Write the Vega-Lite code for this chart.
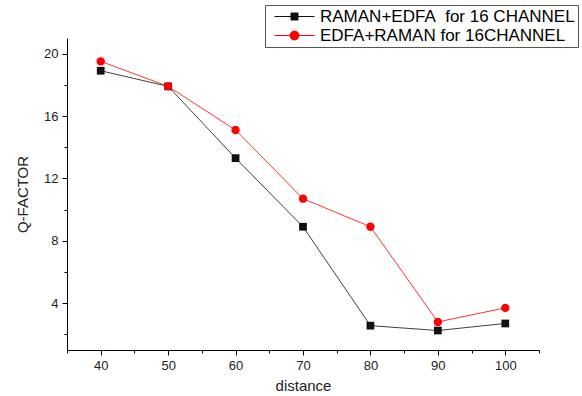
{
  "$schema": "https://vega.github.io/schema/vega-lite/v6.json",
  "width": 472,
  "height": 312,
  "autosize": {"type": "none"},
  "padding": {"left": 67, "top": 38, "right": 43, "bottom": 46},
  "background": "white",
  "config": {"view": {"stroke": null}, "font": "Liberation Sans"},
  "data": {
    "values": [
      {"distance": 40, "q": 18.9, "series": "RAMAN+EDFA\u00a0 for 16 CHANNEL"},
      {"distance": 50, "q": 17.9, "series": "RAMAN+EDFA\u00a0 for 16 CHANNEL"},
      {"distance": 60, "q": 13.3, "series": "RAMAN+EDFA\u00a0 for 16 CHANNEL"},
      {"distance": 70, "q": 8.9, "series": "RAMAN+EDFA\u00a0 for 16 CHANNEL"},
      {"distance": 80, "q": 2.56, "series": "RAMAN+EDFA\u00a0 for 16 CHANNEL"},
      {"distance": 90, "q": 2.25, "series": "RAMAN+EDFA\u00a0 for 16 CHANNEL"},
      {"distance": 100, "q": 2.7, "series": "RAMAN+EDFA\u00a0 for 16 CHANNEL"},
      {"distance": 40, "q": 19.5, "series": "EDFA+RAMAN for 16CHANNEL"},
      {"distance": 50, "q": 17.9, "series": "EDFA+RAMAN for 16CHANNEL"},
      {"distance": 60, "q": 15.1, "series": "EDFA+RAMAN for 16CHANNEL"},
      {"distance": 70, "q": 10.7, "series": "EDFA+RAMAN for 16CHANNEL"},
      {"distance": 80, "q": 8.9, "series": "EDFA+RAMAN for 16CHANNEL"},
      {"distance": 90, "q": 2.8, "series": "EDFA+RAMAN for 16CHANNEL"},
      {"distance": 100, "q": 3.7, "series": "EDFA+RAMAN for 16CHANNEL"}
    ]
  },
  "layer": [
    {
      "mark": {"type": "line", "strokeWidth": 1, "strokeOpacity": 0.8},
      "encoding": {
        "x": {
          "field": "distance", "type": "quantitative",
          "scale": {"domain": [35, 105], "nice": false, "zero": false},
          "axis": {
            "orient": "bottom",
            "values": [40, 50, 60, 70, 80, 90, 100],
            "tickSize": 5, "tickColor": "black", "domainColor": "black",
            "labelFontSize": 13, "labelColor": "#222", "labelPadding": 4,
            "title": "distance", "titleFontSize": 15, "titleFontWeight": "normal",
            "titleColor": "#222", "titlePadding": 6, "grid": false
          }
        },
        "y": {
          "field": "q", "type": "quantitative",
          "scale": {"domain": [1, 21], "nice": false, "zero": false},
          "axis": {
            "orient": "left",
            "values": [4, 8, 12, 16, 20],
            "tickSize": 5, "tickColor": "black", "domainColor": "black",
            "labelFontSize": 13, "labelColor": "#222", "labelPadding": 4,
            "title": "Q-FACTOR", "titleFontSize": 15, "titleFontWeight": "normal",
            "titleColor": "#222", "titlePadding": 13, "grid": false
          }
        },
        "color": {
          "field": "series", "type": "nominal",
          "scale": {"domain": ["RAMAN+EDFA\u00a0 for 16 CHANNEL", "EDFA+RAMAN for 16CHANNEL"], "range": ["#111111", "#ff0000"]},
          "legend": {
            "title": null, "orient": "none", "legendX": 198, "legendY": -33,
            "strokeColor": "#555", "padding": 3, "rowPadding": 1,
            "labelFontSize": 17, "labelColor": "black", "labelLimit": 400,
            "labelOffset": 35, "symbolSize": 100,
            "encode": {
              "symbols": {
                "enter": {
                  "shape": {"signal": "datum.index === 0 ? 'M-0.4,0H7.6M2.9,-0.7H4.3V0.7H2.9Z' : 'M-0.4,0H7.6M2.7,0A0.9,0.9 0 1,0 4.5,0A0.9,0.9 0 1,0 2.7,0Z'"}
                },
                "update": {
                  "shape": {"signal": "datum.index === 0 ? 'M-0.4,0H7.6M2.9,-0.7H4.3V0.7H2.9Z' : 'M-0.4,0H7.6M2.7,0A0.9,0.9 0 1,0 4.5,0A0.9,0.9 0 1,0 2.7,0Z'"},
                  "fill": {"signal": "datum.index === 0 ? '#111' : '#ff0000'"},
                  "stroke": {"signal": "datum.index === 0 ? '#333' : '#ff3030'"},
                  "strokeWidth": {"value": 1},
                  "opacity": {"value": 1}
                }
              }
            }
          }
        }
      }
    },
    {
      "transform": [{"filter": "datum.series !== 'EDFA+RAMAN for 16CHANNEL'"}],
      "mark": {"type": "point", "shape": "square", "filled": true, "size": 60, "opacity": 1},
      "encoding": {
        "x": {
          "field": "distance", "type": "quantitative",
          "axis": {
            "orient": "bottom",
            "values": [35, 45, 55, 65, 75, 85, 95, 105],
            "labels": false, "domain": false, "tickSize": 3, "tickColor": "black",
            "title": null, "grid": false
          }
        },
        "y": {
          "field": "q", "type": "quantitative",
          "axis": {
            "orient": "left",
            "values": [2, 6, 10, 14, 18],
            "labels": false, "domain": false, "tickSize": 3, "tickColor": "black",
            "title": null, "grid": false
          }
        },
        "color": {"field": "series", "type": "nominal", "legend": null}
      }
    },
    {
      "transform": [{"filter": "datum.series === 'EDFA+RAMAN for 16CHANNEL'"}],
      "mark": {"type": "point", "shape": "circle", "filled": true, "size": 70, "opacity": 1},
      "encoding": {
        "x": {"field": "distance", "type": "quantitative", "axis": null},
        "y": {"field": "q", "type": "quantitative", "axis": null},
        "color": {"field": "series", "type": "nominal", "legend": null}
      }
    }
  ],
  "resolve": {"axis": {"x": "independent", "y": "independent"}}
}
